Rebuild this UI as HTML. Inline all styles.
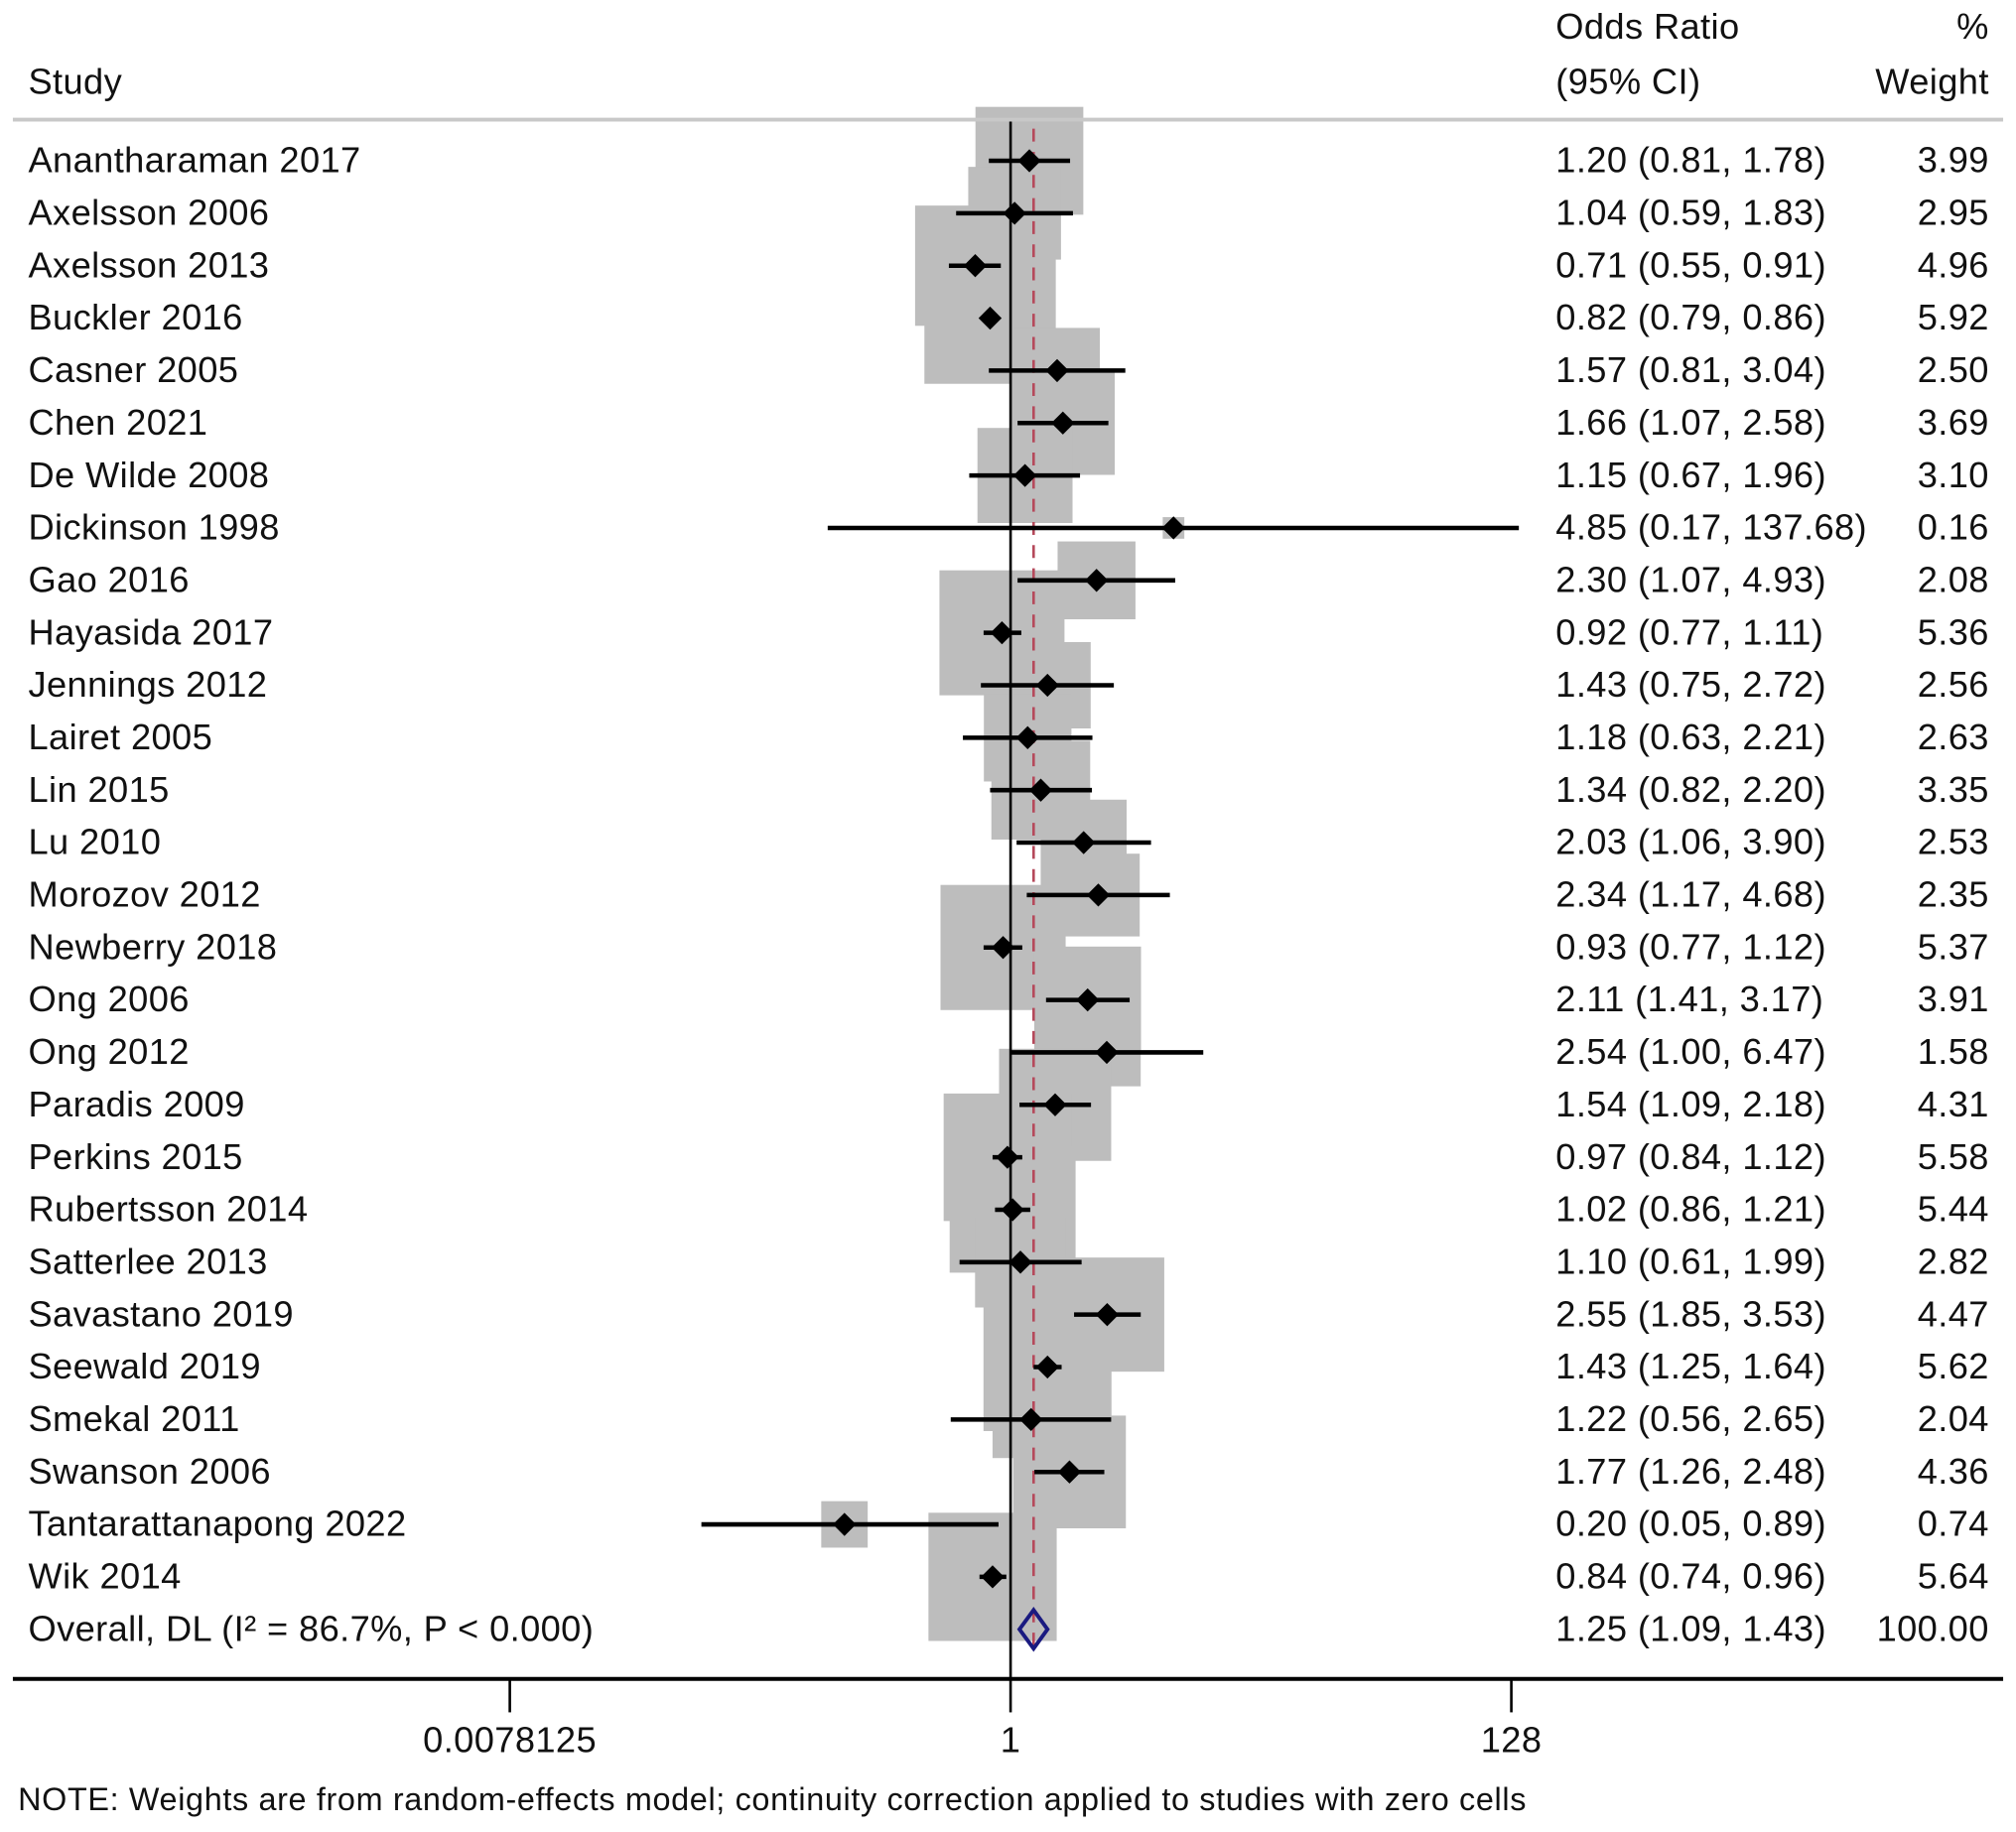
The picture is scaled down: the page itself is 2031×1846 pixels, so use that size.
<!DOCTYPE html>
<html><head><meta charset="utf-8"><style>
html,body{margin:0;padding:0;background:#fff;}
svg{display:block;font-family:"Liberation Sans",Arial,sans-serif;}
</style></head><body>
<svg id="chart" width="2031" height="1846" viewBox="0 0 1568 1425" xmlns="http://www.w3.org/2000/svg">
<g id="boxes"></g>
<line x1="786" y1="93" x2="786" y2="1306" stroke="#000" stroke-width="2"/>
<line id="ovline" x1="804" y1="100" x2="804" y2="1284" stroke="#b5495b" stroke-width="2" stroke-dasharray="10,8"/>
<g id="marks"></g>
<g id="texts" font-size="28" letter-spacing="0.3" fill="#111"></g>
<g font-size="28" letter-spacing="0.3" fill="#111">
<text x="1210" y="30">Odds Ratio</text>
<text x="1210" y="73">(95% CI)</text>
<text x="1547" y="30" text-anchor="end">%</text>
<text x="1547" y="73" text-anchor="end">Weight</text>
<text x="22" y="73">Study</text>
</g>
<line x1="10" y1="93" x2="1558" y2="93" stroke="#c8c8c8" stroke-width="3"/>
<line x1="10" y1="1306" x2="1558" y2="1306" stroke="#000" stroke-width="3"/>
<g id="ticks"></g>
<text x="14" y="1408" font-size="25" letter-spacing="0.5" fill="#111">NOTE: Weights are from random-effects model; continuity correction applied to studies with zero cells</text>
</svg>
<script>
const studies=["Anantharaman 2017","Axelsson 2006","Axelsson 2013","Buckler 2016","Casner 2005","Chen 2021","De Wilde 2008","Dickinson 1998","Gao 2016","Hayasida 2017","Jennings 2012","Lairet 2005","Lin 2015","Lu 2010","Morozov 2012","Newberry 2018","Ong 2006","Ong 2012","Paradis 2009","Perkins 2015","Rubertsson 2014","Satterlee 2013","Savastano 2019","Seewald 2019","Smekal 2011","Swanson 2006","Tantarattanapong 2022","Wik 2014"];
const orValues=[1.20,1.04,0.71,0.82,1.57,1.66,1.15,4.85,2.30,0.92,1.43,1.18,1.34,2.03,2.34,0.93,2.11,2.54,1.54,0.97,1.02,1.10,2.55,1.43,1.22,1.77,0.20,0.84];
const lowerCI=[0.81,0.59,0.55,0.79,0.81,1.07,0.67,0.17,1.07,0.77,0.75,0.63,0.82,1.06,1.17,0.77,1.41,1.00,1.09,0.84,0.86,0.61,1.85,1.25,0.56,1.26,0.05,0.74];
const upperCI=[1.78,1.83,0.91,0.86,3.04,2.58,1.96,137.68,4.93,1.11,2.72,2.21,2.20,3.90,4.68,1.12,3.17,6.47,2.18,1.12,1.21,1.99,3.53,1.64,2.65,2.48,0.89,0.96];
const weights=[3.99,2.95,4.96,5.92,2.50,3.69,3.10,0.16,2.08,5.36,2.56,2.63,3.35,2.53,2.35,5.37,3.91,1.58,4.31,5.58,5.44,2.82,4.47,5.62,2.04,4.36,0.74,5.64];
const overallLabel="Overall, DL (I² = 86.7%, P < 0.000)";
const overallOR=1.25, overallLo=1.09, overallHi=1.43, overallW=100.00;
const tickValues=[0.0078125,1,128];
const tickLabels=["0.0078125","1","128"];

const NS="http://www.w3.org/2000/svg";
const X=v=>786+55.64*Math.log2(v);
const Y=i=>125+i*40.8;
function mk(tag,attrs,parent){const e=document.createElementNS(NS,tag);for(const k in attrs)e.setAttribute(k,attrs[k]);parent.appendChild(e);return e;}
const boxes=document.getElementById('boxes'),marks=document.getElementById('marks'),texts=document.getElementById('texts'),ticks=document.getElementById('ticks');
const f2=v=>v.toFixed(2);
studies.forEach((s,i)=>{
  const y=Y(i),cx=X(orValues[i]),side=42*Math.sqrt(weights[i]);
  const b=mk('rect',{x:cx-side/2,y:y-side/2,width:side,height:side,fill:'#bdbdbd'},boxes);
  
  
  const l=mk('line',{x1:X(lowerCI[i]),x2:X(upperCI[i]),y1:y,y2:y,stroke:'#000','stroke-width':3.5},marks);
  
  
  const d=mk('polygon',{points:`${cx-9},${y} ${cx},${y-9} ${cx+9},${y} ${cx},${y+9}`,fill:'#000'},marks);
  
  
  const t1=mk('text',{x:22,y:y+9},texts);t1.textContent=s;
  
  
  const t2=mk('text',{x:1210,y:y+9},texts);t2.textContent=`${f2(orValues[i])} (${f2(lowerCI[i])}, ${f2(upperCI[i])})`;
  
  
  const t3=mk('text',{x:1547,y:y+9,'text-anchor':'end'},texts);t3.textContent=f2(weights[i]);
  
  
});
const oy=Y(studies.length);
const ox=X(overallOR);
document.getElementById('ovline').setAttribute('x1',ox);
document.getElementById('ovline').setAttribute('x2',ox);
const od=mk('polygon',{points:`${X(overallLo)},${oy} ${ox},${oy-15} ${X(overallHi)},${oy} ${ox},${oy+15}`,fill:'none',stroke:'#1a1a80','stroke-width':3},marks);


const o1=mk('text',{x:22,y:oy+9},texts);o1.textContent=overallLabel;


const o2=mk('text',{x:1210,y:oy+9},texts);o2.textContent=`${f2(overallOR)} (${f2(overallLo)}, ${f2(overallHi)})`;


const o3=mk('text',{x:1547,y:oy+9,'text-anchor':'end'},texts);o3.textContent=f2(overallW);


tickValues.forEach((v,i)=>{
  const x=X(v);
  const t=mk('line',{x1:x,x2:x,y1:1306,y2:1332,stroke:'#000','stroke-width':2},ticks);
  
  
  const lb=mk('text',{x:x,y:1363,'text-anchor':'middle','font-size':28,'letter-spacing':0.3,fill:'#111'},ticks);lb.textContent=tickLabels[i];
  
  
});
</script>
</body></html>
